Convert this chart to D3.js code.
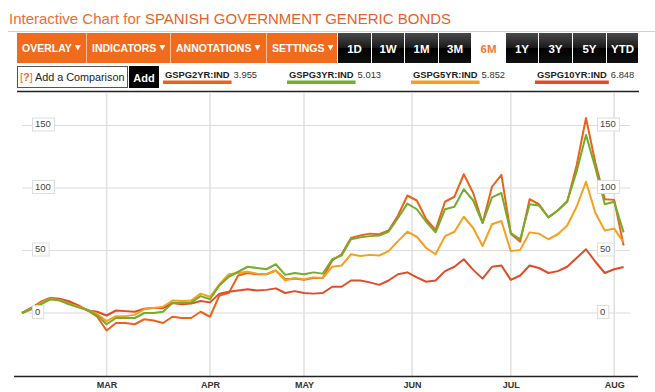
<!DOCTYPE html>
<html>
<head>
<meta charset="utf-8">
<script src="https://cdn.jsdelivr.net/npm/d3@7"></script>
<style>
  body { margin: 0; background: #fff; }
  svg { display: block; font-family: Arial, "Liberation Sans", sans-serif; }
</style>
</head>
<body>
<div id="chart"></div>
<script>
// month labels and the trading-day index where each month starts
const monthLabels = ["MAR", "APR", "MAY", "JUN", "JUL", "AUG"];
const monthDayIdx = [18, 40, 60, 83, 104, 126];
const step = 2; // one reading every 2 trading days
const yTicks = [0, 50, 100, 150];

const seriesNames = ["GSPG2YR:IND", "GSPG3YR:IND", "GSPG5YR:IND", "GSPG10YR:IND"];
const lastValues = ["3.955", "5.013", "5.852", "6.848"];
const seriesColors = ["#eb621d", "#72ad2b", "#f5a01e", "#e04c26"];

const menuLabels = ["OVERLAY", "INDICATORS", "ANNOTATIONS", "SETTINGS"];
const rangeLabels = ["1D", "1W", "1M", "3M", "6M", "1Y", "3Y", "5Y", "YTD"];
const activeRange = "6M";

// change in yield, bp, since start of period
const s2yr = [0, 4, 8, 11, 11, 8, 5, 2, -3, -14, -8, -8, -9, -5, -6, -8, -3, -4, -4, 1, -3,
  14, 16, 30, 32, 31, 31, 34, 27, 27.5, 26.5, 28, 28, 42, 47, 60, 62, 63.5, 63, 66, 78,
  94, 90, 75, 66.5, 89, 93, 111, 96, 72, 101, 110.5, 63.5, 57, 91, 87, 76.5, 82, 89, 118,
  156, 120, 91, 90.5, 54];
const s3yr = [0, 3, 7, 11, 10, 7, 4.5, 2.5, -2, -9, -4, -4, -4, 0, 0, 1, 8, 8, 8.5, 13.5, 11,
  22, 29, 33, 37, 36, 35, 39, 30.5, 32, 31, 32.5, 31.5, 43, 46, 59, 60.5, 61.5, 62, 65, 76,
  87.5, 83, 73, 64.5, 83, 85, 99, 90, 72, 92.5, 96, 64, 59, 87, 86, 76.5, 82, 89.5, 113,
  142.5, 116, 87, 89, 64.5];
const s5yr = [0, 3.5, 8, 11.5, 10.5, 7.5, 5, 2.5, -1, -6.5, -2.5, -2.5, -1.5, 3, 4, 5, 10, 9.6, 10, 15.5, 13,
  23, 31, 32, 33, 31.5, 31, 34, 26, 28, 27, 28.5, 28, 37, 38, 47, 45.6, 46.5, 46, 49.5, 57.5,
  65, 61, 52, 47, 61.5, 65, 77, 68, 53.6, 71, 73.6, 49.5, 50.5, 64.5, 63.5, 59, 63, 70, 85,
  105, 80, 66, 67.5, 56.5];
const s10yr = [0, 4, 9, 12, 11.5, 9.5, 6, 2, 1, -2, 2, 1.5, 1, 3.5, 4, 4, 8, 7, 7.5, 9.6, 8.5,
  15.5, 17, 18, 19, 18, 18.5, 19.7, 16, 17.5, 16, 15.5, 16, 21, 21, 26, 26, 24.5, 22.5, 26, 31,
  32.5, 28.5, 25, 26, 33.5, 37, 43, 34.5, 27.5, 37, 38, 26.5, 30, 38, 36, 32, 33.5, 37, 44,
  51, 41, 32, 35, 36.8];
const seriesValues = [s2yr, s3yr, s5yr, s10yr];
const drawOrder = [0, 3, 2, 1];

const W = 655, H = 392;
const svg = d3.select("#chart").append("svg")
    .attr("width", W)
    .attr("height", H);

const defs = svg.append("defs");
const grad = defs.append("linearGradient")
    .attr("id", "blackBtn")
    .attr("x1", 0).attr("y1", 0).attr("x2", 0).attr("y2", 1);
grad.append("stop").attr("offset", "0%").attr("stop-color", "#4a4a4a");
grad.append("stop").attr("offset", "48%").attr("stop-color", "#1c1c1c");
grad.append("stop").attr("offset", "52%").attr("stop-color", "#000");
grad.append("stop").attr("offset", "100%").attr("stop-color", "#111");

// title
const title = svg.append("text")
    .attr("x", 9)
    .attr("y", 24)
    .style("font-size", "15px");
title.append("tspan").attr("fill", "#ec6d35").text("Interactive Chart for ");
title.append("tspan").attr("fill", "#e8602a").text("SPANISH GOVERNMENT GENERIC BONDS");
svg.append("line")
    .attr("x1", 8).attr("x2", W)
    .attr("y1", 31.5).attr("y2", 31.5)
    .attr("stroke", "#cfcfcf");

// orange menu buttons
const menuX = [17, 87, 171, 267, 338];
menuLabels.forEach((lab, i) => {
    let x0 = menuX[i], x1 = menuX[i + 1] - 1;
    svg.append("rect")
        .attr("x", x0).attr("y", 33)
        .attr("width", x1 - x0).attr("height", 30)
        .attr("fill", "#f26a1b");
    let t = svg.append("text")
        .attr("x", x0 + 5).attr("y", 52)
        .attr("fill", "#fff")
        .style("font-size", "10.5px")
        .style("font-weight", "bold")
        .text(lab);
    let tx = x0 + 5 + t.node().getComputedTextLength() + 3;
    svg.append("path")
        .attr("d", `M${tx},45 L${tx + 6},45 L${tx + 3},50.5 Z`)
        .attr("fill", "#fff");
    if (i > 0) {
        svg.append("line")
            .attr("x1", x0 - 0.5).attr("x2", x0 - 0.5)
            .attr("y1", 33).attr("y2", 63)
            .attr("stroke", "#fbc09a");
    }
});

// range buttons
const rangeX = [338, 372, 405, 439, 472, 506, 539, 573, 607, 639];
rangeLabels.forEach((lab, i) => {
    let x0 = rangeX[i], x1 = rangeX[i + 1] - 1;
    let active = lab === activeRange;
    if (!active) {
        svg.append("rect")
            .attr("x", x0).attr("y", 33)
            .attr("width", x1 - x0).attr("height", 30)
            .attr("fill", "url(#blackBtn)");
    }
    svg.append("text")
        .attr("x", (x0 + x1) / 2).attr("y", 52.5)
        .attr("text-anchor", "middle")
        .attr("fill", active ? "#f07a3a" : "#fff")
        .style("font-size", "11.5px")
        .style("font-weight", "bold")
        .text(lab);
});

// comparison box
svg.append("rect")
    .attr("x", 17.5).attr("y", 66.5)
    .attr("width", 110).attr("height", 21)
    .attr("fill", "#fff")
    .attr("stroke", "#555");
const q = svg.append("text")
    .attr("x", 20).attr("y", 81)
    .style("font-size", "11px");
q.append("tspan").attr("fill", "#e8702a").text("[");
q.append("tspan").attr("fill", "#e8702a").style("font-weight", "bold").text("?");
q.append("tspan").attr("fill", "#e8702a").text("]");
svg.append("text")
    .attr("x", 35).attr("y", 81)
    .attr("fill", "#222")
    .style("font-size", "10.8px")
    .text("Add a Comparison");
svg.append("rect")
    .attr("x", 129).attr("y", 66)
    .attr("width", 30).attr("height", 22)
    .attr("fill", "#000");
svg.append("text")
    .attr("x", 144).attr("y", 81.5)
    .attr("text-anchor", "middle")
    .attr("fill", "#fff")
    .style("font-size", "11px")
    .style("font-weight", "bold")
    .text("Add");

// legend
const legX = [163, 287, 411, 535];
seriesNames.forEach((name, i) => {
    let t = svg.append("text")
        .attr("x", legX[i] + 2).attr("y", 78)
        .style("font-size", "9.4px");
    t.append("tspan").attr("fill", "#222").style("font-weight", "bold").text(name);
    t.append("tspan").attr("fill", "#333").attr("dx", 4).text(lastValues[i]);
    let nameW = t.node().getSubStringLength(0, name.length);
    svg.append("rect")
        .attr("x", legX[i]).attr("y", 80.5)
        .attr("width", nameW + 4).attr("height", 3.5)
        .attr("fill", seriesColors[i]);
});
svg.append("line")
    .attr("x1", 17).attr("x2", 639)
    .attr("y1", 91.5).attr("y2", 91.5)
    .attr("stroke", "#222")
    .attr("stroke-width", 1.5);

// scales
const x = d3.scaleLinear()
    .domain([0, (s2yr.length - 1) * step])
    .range([22, 623.6]);
const y = d3.scaleLinear()
    .domain([0, 150])
    .range([313, 125.5]);

const plot = svg.append("g");

// vertical month grid + labels
plot.append("g")
    .selectAll("line")
    .data(monthDayIdx)
    .enter()
    .append("line")
    .attr("x1", d => x(d)).attr("x2", d => x(d))
    .attr("y1", 93).attr("y2", 376)
    .attr("stroke", "#e2e2e2")
    .attr("stroke-width", 1.6);

// horizontal grid
plot.append("g")
    .selectAll("line")
    .data(yTicks)
    .enter()
    .append("line")
    .attr("x1", 22).attr("x2", 630)
    .attr("y1", d => y(d)).attr("y2", d => y(d))
    .attr("stroke", "#dcdcdc")
    .attr("stroke-width", 1.2);

// x axis
const xAxis = d3.axisBottom(x)
    .tickValues(monthDayIdx)
    .tickFormat((d, i) => monthLabels[i])
    .tickSize(0)
    .tickPadding(6);
const gx = svg.append("g")
    .attr("transform", "translate(0,376)")
    .call(xAxis);
gx.select(".domain").remove();
gx.selectAll("text")
    .attr("fill", "#333")
    .style("font-size", "9px")
    .style("font-weight", "bold")
    .style("font-family", "Arial, 'Liberation Sans', sans-serif");
svg.append("line")
    .attr("x1", 14).attr("x2", 638)
    .attr("y1", 376.5).attr("y2", 376.5)
    .attr("stroke", "#222")
    .attr("stroke-width", 1.5);

// series lines
const line = d3.line()
    .x((d, i) => x(i * step))
    .y(d => y(d));
drawOrder.forEach(si => {
    plot.append("path")
        .datum(seriesValues[si])
        .attr("fill", "none")
        .attr("stroke", seriesColors[si])
        .attr("stroke-width", 2)
        .attr("stroke-linejoin", "round")
        .attr("d", line);
});

// y labels in boxes, both sides
function yLabels(xLeft) {
    yTicks.forEach(v => {
        let g = svg.append("g");
        let t = g.append("text")
            .attr("x", xLeft + 3).attr("y", y(v) + 1.5)
            .attr("fill", "#444")
            .style("font-size", "9.5px")
            .text(v);
        let w = t.node().getComputedTextLength();
        g.insert("rect", "text")
            .attr("x", xLeft + 0.5).attr("y", y(v) - 7.5)
            .attr("width", w + 6).attr("height", 13)
            .attr("fill", "#fff")
            .attr("stroke", "#ddd");
    });
}
yLabels(32);
yLabels(597);
</script>
</body>
</html>
